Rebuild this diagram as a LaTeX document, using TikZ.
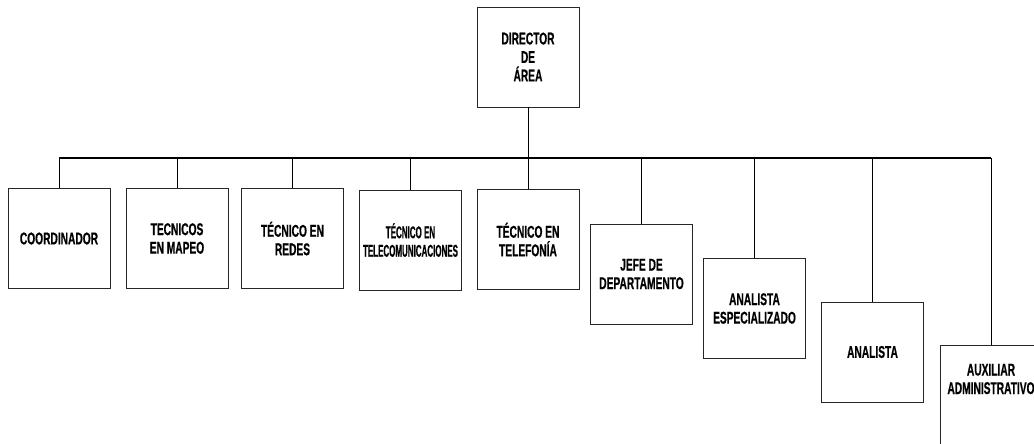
\documentclass[tikz,border=0pt]{standalone}
\usepackage{fontspec}
\setmainfont{Liberation Sans}[FakeStretch=0.6, BoldFeatures={FakeBold=0.6}]
\newfontfamily\narrowfont{Liberation Sans}[FakeStretch=0.47, BoldFeatures={FakeBold=0.6}]
\begin{document}
\begin{tikzpicture}[x=1pt,y=-1pt,
  box/.style={draw=black!85, line width=0.8pt, minimum width=102pt, minimum height=100pt,
    inner sep=0pt, align=center, font=\fontsize{17}{18.5}\selectfont\bfseries},
  narrowbox/.style={box, font=\narrowfont\fontsize{17}{18.5}\selectfont\bfseries},
  lbl/.style={inner sep=0pt, align=center, font=\fontsize{17}{18.5}\selectfont\bfseries},
  conn/.style={line width=0.8pt},
  busline/.style={line width=1.8pt}]
\useasboundingbox (0,0) rectangle (1034,444);
\clip (0,0) rectangle (1034,444);
\node[box] (dir) at (528,57) {DIRECTOR\\DE\\ÁREA};
\node[box] (coord) at (59,238.5) {COORDINADOR};
\node[box] (mapeo) at (177,238.5) {TECNICOS\\EN MAPEO};
\node[box] (redes) at (292.5,238.5) {TÉCNICO EN\\REDES};
\node[narrowbox] (telecom) at (410.5,240) {TÉCNICO EN\\TELECOMUNICACIONES};
\node[box] (telef) at (528,239.5) {TÉCNICO EN\\TELEFONÍA};
\node[box] (jefe) at (641.5,274) {JEFE DE\\DEPARTAMENTO};
\node[box] (espec) at (754.5,308.5) {ANALISTA\\ESPECIALIZADO};
\node[box] (anal) at (872.5,352) {ANALISTA};
\node[box, anchor=north, minimum height=110pt] (aux) at (991,345) {};
\node[lbl] (auxt) at (991,379) {AUXILIAR\\ADMINISTRATIVO};
\coordinate (busL) at (59,158);
\coordinate (busR) at (991,158);
\draw[busline] (busL) -- (busR);
\draw[conn] (dir.south) -- (dir.south |- busL);
\foreach \n in {coord,mapeo,redes,telecom,telef,jefe,espec,anal,aux}
  \draw[conn] (\n.north) -- (\n.north |- busL);
\end{tikzpicture}
\end{document}
